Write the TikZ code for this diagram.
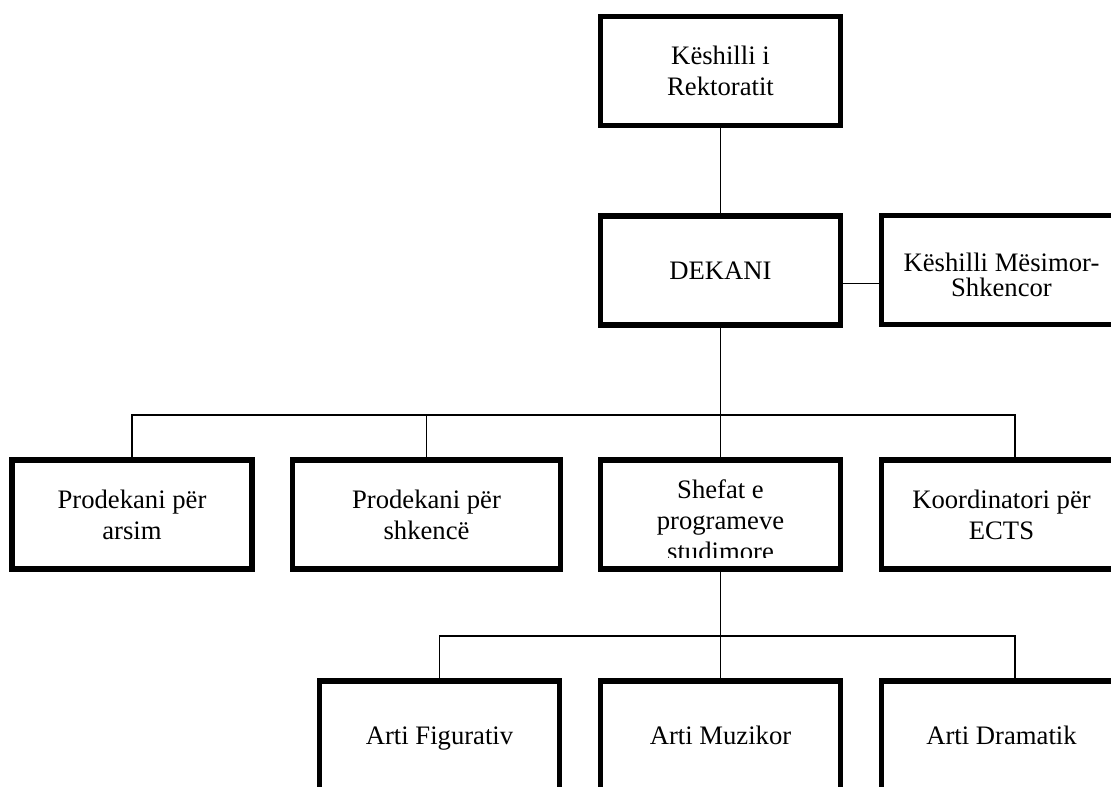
\documentclass[tikz,border=0pt]{standalone}
\usepackage{fontspec}
\setmainfont{Liberation Serif}
\usetikzlibrary{calc}
\begin{document}
\begin{tikzpicture}[x=0.75pt,y=-0.75pt,
  orgbox/.style={draw, line width=4.1pt, minimum width=180pt, minimum height=82pt,
    inner sep=0pt, align=center, font=\fontsize{20}{23.25}\selectfont},
  widebox/.style={orgbox, minimum width=201pt},
  boxtext/.style={inner sep=0pt, align=center, font=\fontsize{20}{23.25}\selectfont},
  onerow/.style={text height=13.5pt, text depth=0pt},
  wire/.style={line width=1.4pt}]
\clip (0,0) rectangle (1111,787);
% top
\node[orgbox] (rek) at (720.5,71) {Këshilli i\\Rektoratit};
\node[orgbox, onerow] (dek) at (720.5,270.5) {DEKANI};
\node[orgbox] (mes) at (1001.5,270) {\rule{0pt}{21pt}Këshilli Mësimor-\\[-5pt]Shkencor};
% second row
\node[orgbox] (pa) at (132,514.5) {Prodekani për\\arsim};
\node[widebox] (ps) at (426.5,514.5) {Prodekani për\\shkencë};
\node[orgbox] (sh) at (720.5,514.5) {};
\node[orgbox] (ko) at (1001.5,514.5) {Koordinatori për\\ECTS};
\begin{scope}
  \clip (600,460) rectangle (841,558);
  \node[boxtext] (shtext) at (720.5,520) {Shefat e\\programeve\\studimore};
\end{scope}
% third row
\node[orgbox, onerow] (af) at (439.5,735.5) {Arti Figurativ};
\node[orgbox, onerow] (am) at (720.5,735.5) {Arti Muzikor};
\node[orgbox, onerow] (ad) at (1001.5,735.5) {Arti Dramatik};
% connectors
\coordinate (bus1) at (720.5,415);
\coordinate (bus2) at (720.5,636);
\draw[wire] (rek) -- (dek);
\draw[wire] ($(dek.east)+(0,13)$) -- ($(mes.west)+(0,13.5)$);
\draw[wire] (dek.south) -- (bus1);
\draw[wire] (pa.north) |- (bus1);
\draw[wire] (ps.north) |- (bus1);
\draw[wire] (bus1) -- (sh.north);
\draw[wire] ($(ko.north)+(13.5,0)$) |- (bus1);
\draw[wire] (sh.south) -- (bus2);
\draw[wire] (af.north) |- (bus2);
\draw[wire] (bus2) -- (am.north);
\draw[wire] ($(ad.north)+(13.5,0)$) |- (bus2);
\end{tikzpicture}
\end{document}
